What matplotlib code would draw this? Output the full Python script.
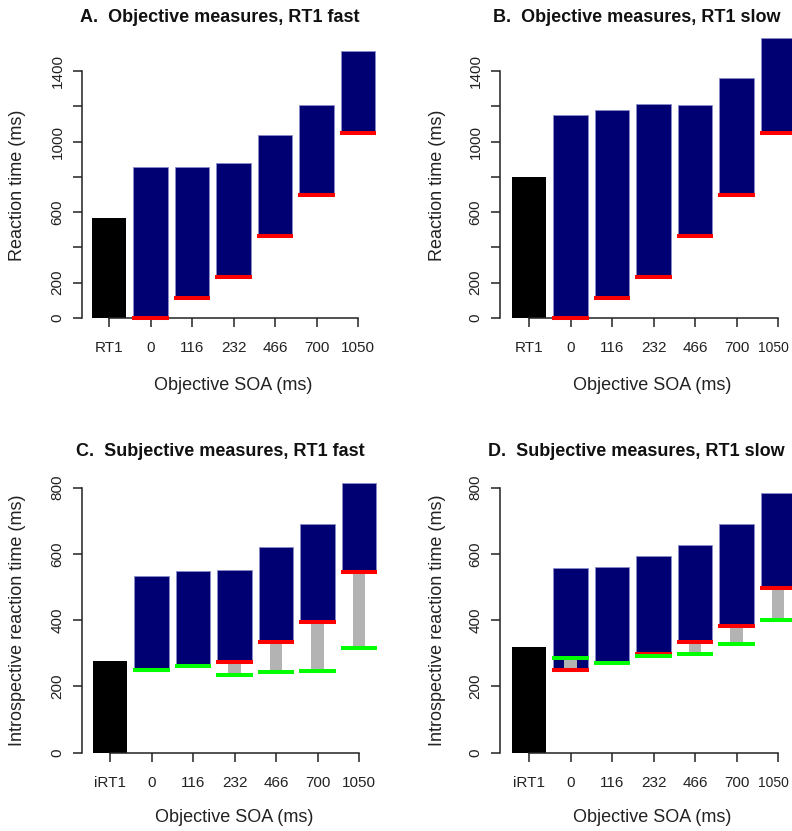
import matplotlib
matplotlib.use("Agg")
import matplotlib.pyplot as plt
import matplotlib.transforms as mtransforms
import numpy as np

plt.rcParams['font.family'] = ['Liberation Sans', 'DejaVu Sans']

# ---------------- data ----------------
soa_labels = ["0", "116", "232", "466", "700", "1050"]
soa = [0, 116, 232, 466, 700, 1050]

A_rt1 = 565
A_top = [854, 854, 880, 1037, 1209, 1515]
B_rt1 = 801
B_top = [1151, 1177, 1215, 1209, 1361, 1589]

C_irt1 = 278
C_top = [532, 549, 553, 622, 690, 813]
C_red = [250, 263, 275, 333, 394, 546]
C_green = [250, 263, 235, 243, 248, 315]

D_irt1 = 318
D_top = [557, 560, 595, 627, 690, 785]
D_red = [250, 270, 297, 333, 383, 498]
D_green = [287, 270, 292, 298, 327, 400]

obj_yticks = [0, 200, 400, 600, 800, 1000, 1200, 1400]
obj_yticklabels = ["0", "200", "", "600", "", "1000", "", "1400"]
subj_yticks = [0, 200, 400, 600, 800]
subj_yticklabels = ["0", "200", "400", "600", "800"]

titles = ["A.  Objective measures, RT1 fast", "B.  Objective measures, RT1 slow",
          "C.  Subjective measures, RT1 fast", "D.  Subjective measures, RT1 slow"]

# ---------------- style ----------------
NAVY = "#000072"
RED = "#FF0000"
GREEN = "#00FF00"
GRAY = "#B3B3B3"
W, H = 792, 831
SP = 41.5  # px per category

fig = plt.figure(figsize=(W / 100, H / 100), dpi=100, facecolor="white")


def make_ax(axis_px, tick0_px, y0_px, ppu, ylim, xlim_right=6.65):
    xl = (axis_px - tick0_px) / SP
    left = axis_px
    right = tick0_px + xlim_right * SP
    bottom = y0_px - ylim[0] * ppu
    top = y0_px - ylim[1] * ppu
    ax = fig.add_axes([left / W, 1 - bottom / H, (right - left) / W, (bottom - top) / H])
    ax.set_xlim(xl, xlim_right)
    ax.set_ylim(*ylim)
    ax.patch.set_visible(False)
    for s in ["top", "right"]:
        ax.spines[s].set_visible(False)
    ax.spines["left"].set_position(("data", xl))
    ax.spines["bottom"].set_position(("data", 0))
    ax.spines["bottom"].set_bounds(0, 6)
    for s in ["left", "bottom"]:
        ax.spines[s].set_linewidth(1.1)
        ax.spines[s].set_color("#222222")
    ax.tick_params(axis="both", direction="out", length=6.5, width=1.1, color="#222222",
                   labelsize=11, labelcolor="#222222")
    ax.tick_params(axis="x", pad=10)
    ax.tick_params(axis="y", pad=6)
    return ax


def draw_obj(ax, rt1, tops, first_label, ymax_tick, yticks, yticklabels):
    x = np.arange(7)
    ax.bar(x[0], rt1, width=0.83, color="black", zorder=2)
    heights = [t - b for t, b in zip(tops, soa)]
    ax.bar(x[1:], heights, bottom=soa, width=0.83, color=NAVY, edgecolor="#8C8CC8",
           linewidth=0.6, zorder=2, clip_on=False)
    ax.hlines(soa, x[1:] - 0.44, x[1:] + 0.44, colors=RED, linewidth=2.9, zorder=5, clip_on=False)
    ax.set_xticks(x)
    ax.set_xticklabels([first_label] + soa_labels)
    ax.set_yticks(yticks)
    ax.set_yticklabels(yticklabels, rotation=90, va="center")
    ax.spines["left"].set_bounds(0, ymax_tick)


def draw_subj(ax, irt1, tops, red, green):
    x = np.arange(7)
    ax.bar(x[0], irt1, width=0.83, color="black", zorder=2)
    heights = [t - b for t, b in zip(tops, red)]
    ax.bar(x[1:], heights, bottom=red, width=0.83, color=NAVY, edgecolor="#8C8CC8",
           linewidth=0.6, zorder=2, clip_on=False)
    lo = [min(r, g) for r, g in zip(red, green)]
    gh = [abs(r - g) for r, g in zip(red, green)]
    ax.bar(x[1:], gh, bottom=lo, width=0.29, color=GRAY, zorder=3, clip_on=False)
    ax.hlines(red, x[1:] - 0.44, x[1:] + 0.44, colors=RED, linewidth=2.9, zorder=5, clip_on=False)
    ax.hlines(green, x[1:] - 0.44, x[1:] + 0.44, colors=GREEN, linewidth=2.9, zorder=6, clip_on=False)
    ax.set_xticks(x)
    ax.set_xticklabels(["iRT1"] + soa_labels)
    ax.set_yticks(subj_yticks)
    ax.set_yticklabels(subj_yticklabels, rotation=90, va="center")
    ax.spines["left"].set_bounds(0, 800)


obj_ppu = 247 / 1400.0
subj_ppu = 265 / 800.0

axA = make_ax(82, 109, 318, obj_ppu, (-60, 1650))
draw_obj(axA, A_rt1, A_top, "RT1", 1400, obj_yticks, obj_yticklabels)
axB = make_ax(500, 529, 318, obj_ppu, (-60, 1650))
draw_obj(axB, B_rt1, B_top, "RT1", 1400, obj_yticks, obj_yticklabels)
axC = make_ax(82, 110, 752.7, subj_ppu, (-40, 860))
draw_subj(axC, C_irt1, C_top, C_red, C_green)
axD = make_ax(500, 529, 752.7, subj_ppu, (-40, 860))
draw_subj(axD, D_irt1, D_top, D_red, D_green)

# axis labels
for ax, ylab, xc, yc_x, ylx, yly in [
        (axA, "Reaction time (ms)", 233, 385, 18, 185),
        (axB, "Reaction time (ms)", 652, 385, 438, 185),
        (axC, "Introspective reaction time (ms)", 234, 818, 18, 620),
        (axD, "Introspective reaction time (ms)", 652, 818, 438, 620)]:
    ax.set_xlabel("Objective SOA (ms)", fontsize=13, color="#222222")
    ax.xaxis.set_label_coords(xc / W, 1 - yc_x / H, transform=fig.transFigure)
    ax.xaxis.label.set_va("center")
    ax.set_ylabel(ylab, fontsize=13, color="#222222")
    ax.yaxis.set_label_coords(ylx / W, 1 - yly / H, transform=fig.transFigure)
    ax.yaxis.label.set_va("center")

# the last category label on the right-hand panels sits at the figure edge:
# make it a touch smaller and nudge it left so it stays inside
for ax in (axB, axD):
    tick = ax.xaxis.get_major_ticks()[-1]
    lab = tick.label1
    lab.set_fontsize(10)
    lab.set_transform(lab.get_transform() +
                      mtransforms.ScaledTranslation(-4.5 / 100, 0, fig.dpi_scale_trans))

# titles
for t, (xc, yc) in zip(titles, [(219.5, 17), (636.5, 17), (220, 452), (636.5, 452)]):
    fig.text(xc / W, 1 - yc / H, t, ha="center", va="center", fontsize=13,
             fontweight="bold", color="#111111")

fig.savefig("out.png", dpi=100, facecolor="white")
